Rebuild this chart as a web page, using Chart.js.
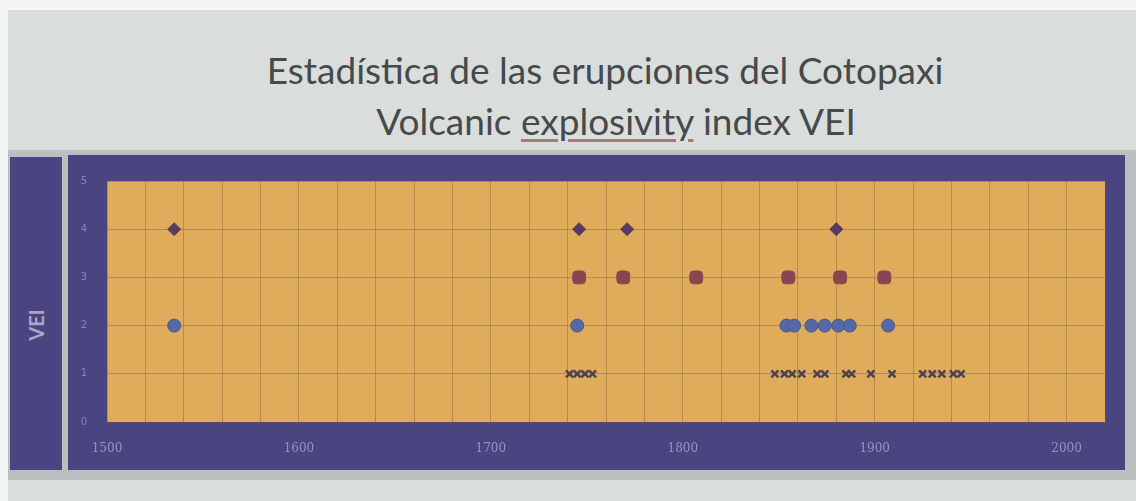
<!DOCTYPE html>
<html>
<head>
<meta charset="utf-8">
<script src="https://cdn.jsdelivr.net/npm/chart.js@4"></script>
<style>
  html, body { margin: 0; padding: 0; }
  body { width: 1136px; height: 501px; overflow: hidden; background: #f4f6f6; position: relative; }
  .slide { position: absolute; left: 8px; top: 10px; right: 0; bottom: 0; background: #d9dedd; }
  .band { position: absolute; left: 8px; top: 150px; right: 0; height: 330px; background: #b9c0bf; }
  .title { position: absolute; left: 0; width: 1136px; text-align: center; font-family: Lato, "Open Sans", sans-serif; color: #464a4a; font-size: 37px; }
  .t1 { top: 47px; left: 37px; }
  .t2 { top: 98px; left: 48px; }
  .t2 u { text-decoration-color: rgba(150, 80, 80, 0.7); text-underline-offset: 4px; }
  .side { position: absolute; left: 10px; top: 157px; width: 52px; height: 313px; background: #4a4580; }
  .side span { position: absolute; left: 26px; top: 168px; transform: translate(-50%, -50%) rotate(-90deg); font-family: Lato, sans-serif; font-weight: bold; font-size: 20px; color: #a7a6c6; }
  .panel { position: absolute; left: 68px; top: 155px; width: 1057px; height: 315px; background: #4a4580; }
</style>
</head>
<body>
<div class="slide"></div>
<div class="band"></div>
<div class="title t1">Estadística de las erupciones del Cotopaxi</div>
<div class="title t2">Volcanic <u>explosivity</u> index VEI</div>
<div class="side"><span>VEI</span></div>
<div class="panel"><canvas id="veiChart" width="1057" height="315"></canvas></div>
<script>
// eruption years per VEI level
const vei4Years = [1535, 1746, 1771, 1880];
const vei3Years = [1746, 1769, 1807, 1855, 1882, 1905];
const vei2Years = [1535, 1745, 1854, 1858, 1867, 1874, 1881, 1887, 1907];
const vei1Years = [1741, 1745, 1749, 1753, 1848, 1853, 1857, 1862, 1870, 1874,
                   1885, 1888, 1898, 1909, 1925, 1930, 1935, 1941, 1945];
const yearTicks = [1500, 1600, 1700, 1800, 1900, 2000];
const veiTicks = [0, 1, 2, 3, 4, 5];

const toPoints = (years, vei) => years.map(y => ({ x: y, y: vei }));

// fills the plot area with the slide's orange
const plotBackground = {
    id: 'plotBackground',
    beforeDraw(chart) {
        const { ctx, chartArea: a } = chart;
        ctx.save();
        ctx.fillStyle = '#dfac5c';
        ctx.fillRect(a.left, a.top, a.right - a.left, a.bottom - a.top);
        ctx.restore();
    }
};

new Chart(document.getElementById('veiChart'), {
    type: 'scatter',
    data: {
        datasets: [
            { label: 'VEI 4', data: toPoints(vei4Years, 4), pointStyle: 'rectRot', radius: 6.5,
              backgroundColor: '#5b3a62', borderColor: '#5b3a62' },
            { label: 'VEI 3', data: toPoints(vei3Years, 3), pointStyle: 'rectRounded', radius: 7.5,
              backgroundColor: '#8b4550', borderColor: '#8b4550' },
            { label: 'VEI 2', data: toPoints(vei2Years, 2), pointStyle: 'circle', radius: 6.5,
              backgroundColor: '#5669a6', borderColor: '#48598f', borderWidth: 1 },
            { label: 'VEI 1', data: toPoints(vei1Years, 1), pointStyle: 'crossRot', radius: 5,
              backgroundColor: '#4d4350', borderColor: '#4d4350', borderWidth: 2.5 }
        ]
    },
    options: {
        responsive: false,
        animation: false,
        layout: { padding: { left: 11, right: 15, top: 25, bottom: 16 } },
        plugins: { legend: { display: false }, tooltip: { enabled: false } },
        scales: {
            x: {
                type: 'linear', min: 1500, max: 2020,
                border: { display: false },
                grid: { color: 'rgba(120, 90, 50, 0.4)', lineWidth: 1, drawTicks: false },
                ticks: {
                    stepSize: 20, autoSkip: false, maxRotation: 0, padding: 20,
                    color: '#9593c0', font: { family: 'DejaVu Serif', size: 12 },
                    callback: v => yearTicks.includes(v) ? String(v) : ''
                },
                afterFit: scale => { scale.height = 32; }
            },
            y: {
                min: 0, max: 5,
                border: { display: false },
                grid: { color: 'rgba(120, 90, 50, 0.4)', lineWidth: 1, drawTicks: false },
                ticks: {
                    stepSize: 1, padding: 20, color: '#8684b4',
                    font: { family: 'DejaVu Sans', size: 10 },
                    callback: v => veiTicks.includes(v) ? String(v) : ''
                },
                afterFit: scale => { scale.width = 28; }
            }
        }
    },
    plugins: [plotBackground]
});
</script>
</body>
</html>
